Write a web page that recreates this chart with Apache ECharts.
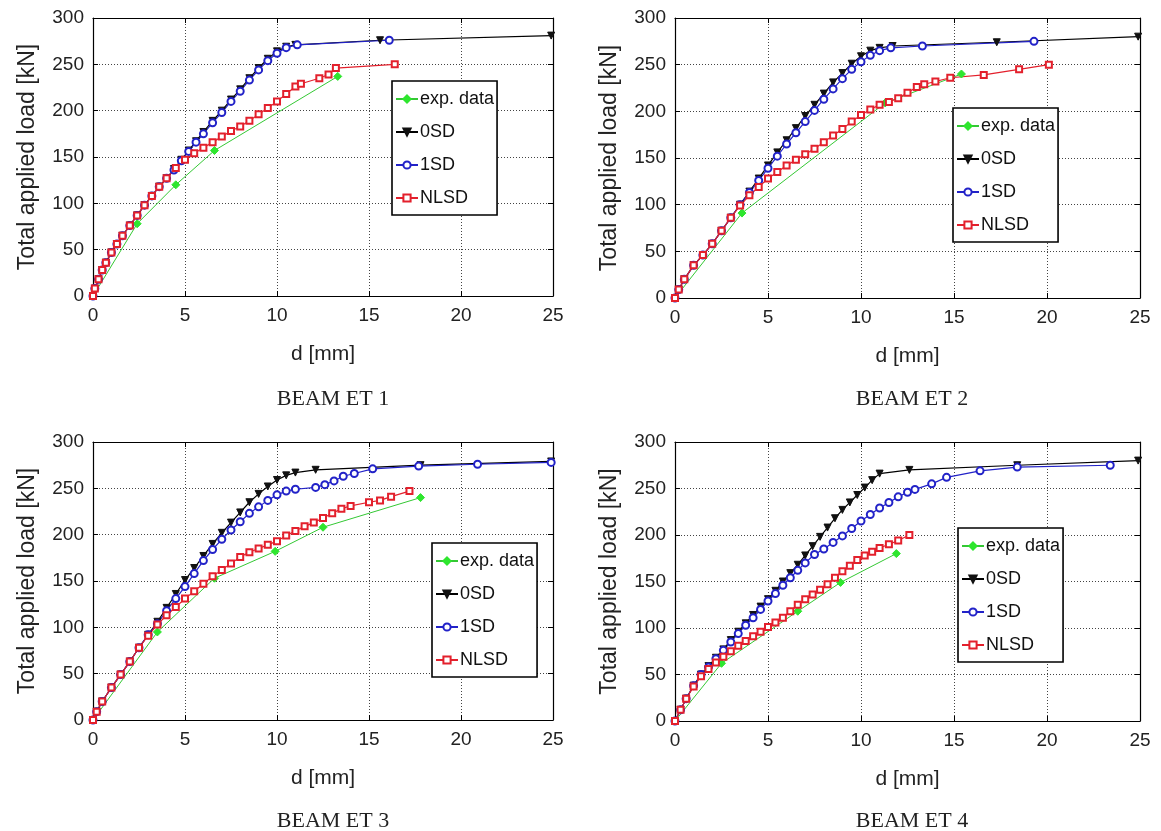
<!DOCTYPE html>
<html><head><meta charset="utf-8">
<script src="https://cdn.jsdelivr.net/npm/echarts@6/dist/echarts.min.js"></script>
<style>html,body{margin:0;padding:0;background:#fff}#c{width:1161px;height:831px}</style>
</head><body><div id="c"></div>
<script>
// ---------- data ----------
const panelTitles = ['BEAM ET 1', 'BEAM ET 2', 'BEAM ET 3', 'BEAM ET 4'];
const seriesNames = ['exp. data', '0SD', '1SD', 'NLSD'];
const xAxisName = 'd [mm]';
const yAxisName = 'Total applied load [kN]';
const xRange = [0, 25, 5];     // min, max, interval
const yRange = [0, 300, 50];

// BEAM ET 1
const et1Exp  = [[0,0],[2.4,78],[4.5,120],[6.6,157],[13.3,237]];
const et1_0SD = [[0,0],[0.1,8],[0.3,18],[0.5,28],[0.7,36],[1.0,47],[1.3,56],[1.6,65],[2.0,76],[2.4,87],[2.8,98],[3.2,108],[3.6,118],[4.0,127],[4.4,137],[4.8,147],[5.2,157],[5.6,167],[6.0,177],[6.5,189],[7.0,200],[7.5,212],[8.0,223],[8.5,235],[9.0,246],[9.5,256],[10.0,264],[10.5,269],[11.0,271],[15.6,276],[24.9,281]];
const et1_1SD = [[0,0],[0.1,8],[0.3,18],[0.5,28],[0.7,36],[1.0,47],[1.3,56],[1.6,65],[2.0,76],[2.4,87],[2.8,98],[3.2,108],[3.6,118],[4.0,127],[4.4,136],[4.8,146],[5.2,156],[5.6,166],[6.0,175],[6.5,187],[7.0,198],[7.5,210],[8.0,221],[8.5,233],[9.0,244],[9.5,254],[10.0,262],[10.5,268],[11.1,271],[16.1,276]];
const et1_NLSD = [[0,0],[0.1,8],[0.3,18],[0.5,28],[0.7,36],[1.0,47],[1.3,56],[1.6,65],[2.0,76],[2.4,87],[2.8,98],[3.2,108],[3.6,118],[4.0,127],[4.5,138],[5.0,147],[5.5,154],[6.0,160],[6.5,166],[7.0,172],[7.5,178],[8.0,183],[8.5,189],[9.0,196],[9.5,203],[10.0,210],[10.5,218],[11.0,226],[11.3,229],[12.3,235],[12.8,239],[13.2,246],[16.4,250]];

// BEAM ET 2
const et2Exp  = [[0,0],[3.6,91],[11.3,209],[15.4,240]];
const et2_0SD = [[0,0],[0.2,9],[0.5,20],[1.0,35],[1.5,46],[2.0,58],[2.5,72],[3.0,86],[3.5,100],[4.0,114],[4.5,128],[5.0,142],[5.5,156],[6.0,169],[6.5,182],[7.0,195],[7.5,207],[8.0,219],[8.5,231],[9.0,241],[9.5,251],[10.0,259],[10.5,265],[11.0,268],[11.7,270],[17.3,274],[24.9,280]];
const et2_1SD = [[0,0],[0.2,9],[0.5,20],[1.0,35],[1.5,46],[2.0,58],[2.5,72],[3.0,86],[3.5,100],[4.0,113],[4.5,126],[5.0,139],[5.5,152],[6.0,165],[6.5,177],[7.0,189],[7.5,201],[8.0,213],[8.5,224],[9.0,235],[9.5,245],[10.0,253],[10.5,260],[11.0,265],[11.6,268],[13.3,270],[19.3,275]];
const et2_NLSD = [[0,0],[0.2,9],[0.5,20],[1.0,35],[1.5,46],[2.0,58],[2.5,72],[3.0,86],[3.5,99],[4.0,110],[4.5,119],[5.0,128],[5.5,135],[6.0,142],[6.5,148],[7.0,154],[7.5,160],[8.0,167],[8.5,174],[9.0,181],[9.5,189],[10.0,196],[10.5,202],[11.0,207],[11.5,210],[12.0,214],[12.5,220],[13.0,226],[13.4,229],[14.0,232],[14.8,236],[16.6,239],[18.5,245],[20.1,250]];

// BEAM ET 3
const et3Exp  = [[0,0],[3.5,95],[6.6,153],[9.9,182],[12.5,208],[17.8,240]];
const et3_0SD = [[0,0],[0.2,9],[0.5,20],[1.0,35],[1.5,49],[2.0,63],[2.5,78],[3.0,92],[3.5,106],[4.0,121],[4.5,136],[5.0,151],[5.5,164],[6.0,177],[6.5,190],[7.0,202],[7.5,213],[8.0,224],[8.5,235],[9.0,244],[9.5,252],[10.0,259],[10.5,264],[11.0,267],[12.1,270],[17.8,275],[24.9,279]];
const et3_1SD = [[0,0],[0.2,9],[0.5,20],[1.0,35],[1.5,49],[2.0,63],[2.5,78],[3.0,92],[3.5,104],[4.0,118],[4.5,131],[5.0,144],[5.5,158],[6.0,172],[6.5,184],[7.0,195],[7.5,205],[8.0,214],[8.5,223],[9.0,230],[9.5,237],[10.0,243],[10.5,247],[11.0,249],[12.1,251],[12.6,254],[13.1,258],[13.6,263],[14.2,266],[15.2,271],[17.7,274],[20.9,276],[24.9,278]];
const et3_NLSD = [[0,0],[0.2,9],[0.5,20],[1.0,35],[1.5,49],[2.0,63],[2.5,78],[3.0,91],[3.5,103],[4.0,113],[4.5,122],[5.0,131],[5.5,139],[6.0,147],[6.5,155],[7.0,162],[7.5,169],[8.0,176],[8.5,181],[9.0,185],[9.5,189],[10.0,193],[10.5,199],[11.0,204],[11.5,209],[12.0,213],[12.5,218],[13.0,223],[13.5,228],[14.0,231],[15.0,235],[15.6,237],[16.2,241],[17.2,247]];

// BEAM ET 4
const et4Exp  = [[0,0],[2.5,62],[6.6,118],[8.9,149],[11.9,180]];
const et4_0SD = [[0,0],[0.3,12],[0.6,24],[1.0,38],[1.4,50],[1.8,59],[2.2,68],[2.6,77],[3.0,87],[3.4,96],[3.8,105],[4.2,114],[4.6,123],[5.0,131],[5.4,140],[5.8,150],[6.2,159],[6.6,168],[7.0,178],[7.4,188],[7.8,198],[8.2,208],[8.6,218],[9.0,227],[9.4,235],[9.8,243],[10.2,251],[10.6,259],[11.0,266],[12.6,270],[18.4,275],[24.9,280]];
const et4_1SD = [[0,0],[0.3,12],[0.6,24],[1.0,38],[1.4,50],[1.8,58],[2.2,67],[2.6,76],[3.0,85],[3.4,94],[3.8,103],[4.2,111],[4.6,120],[5.0,129],[5.4,137],[5.8,146],[6.2,154],[6.6,162],[7.0,170],[7.5,179],[8.0,185],[8.5,192],[9.0,199],[9.5,207],[10.0,215],[10.5,222],[11.0,229],[11.5,235],[12.0,241],[12.5,246],[12.9,249],[13.8,255],[14.6,262],[16.4,269],[18.4,273],[23.4,275]];
const et4_NLSD = [[0,0],[0.3,12],[0.6,24],[1.0,37],[1.4,48],[1.8,56],[2.2,63],[2.6,69],[3.0,75],[3.4,81],[3.8,86],[4.2,91],[4.6,96],[5.0,101],[5.4,106],[5.8,111],[6.2,118],[6.6,125],[7.0,131],[7.4,136],[7.8,141],[8.2,147],[8.6,154],[9.0,161],[9.4,167],[9.8,173],[10.2,178],[10.6,182],[11.0,186],[11.5,190],[12.0,194],[12.6,200]];

const panelData = [
  [et1Exp, et1_0SD, et1_1SD, et1_NLSD],
  [et2Exp, et2_0SD, et2_1SD, et2_NLSD],
  [et3Exp, et3_0SD, et3_1SD, et3_NLSD],
  [et4Exp, et4_0SD, et4_1SD, et4_NLSD]
];

// ---------- layout / style ----------
const grids = [
  {left: 93,  top: 18,  width: 460, height: 278},
  {left: 675, top: 18,  width: 465, height: 280},
  {left: 93,  top: 442, width: 460, height: 278},
  {left: 675, top: 442, width: 465, height: 279}
];
const legendPos = [
  {left: 392, top: 81},
  {left: 953, top: 108},
  {left: 432, top: 543},
  {left: 958, top: 528}
];
const titlePos = [
  {left: 328, top: 383},
  {left: 907, top: 383},
  {left: 328, top: 805},
  {left: 907, top: 805}
];
const SANS = '"Liberation Sans", Arial, Helvetica, sans-serif';
const SERIF = '"Liberation Serif", "Times New Roman", serif';
const seriesStyle = [
  {symbol: 'diamond', symbolSize: 8, symbolRotate: 0, color: '#2ee62e', line: '#34c834', width: 1},
  {symbol: 'triangle', symbolSize: 7, symbolRotate: 180, color: '#111111', line: '#000000', width: 1.2},
  {symbol: 'emptyCircle', symbolSize: 7, symbolRotate: 0, color: '#2222c8', line: '#2222c8', width: 1.2},
  {symbol: 'emptyRect', symbolSize: 6, symbolRotate: 0, color: '#e3202c', line: '#e3202c', width: 1.2}
];

const xAxes = [], yAxes = [], series = [], legends = [], titles = [];
grids.forEach((g, p) => {
  xAxes.push({
    type: 'value', gridIndex: p, min: xRange[0], max: xRange[1], interval: xRange[2],
    name: xAxisName, nameLocation: 'middle', nameGap: 48,
    nameTextStyle: {fontFamily: SANS, fontSize: 21, color: '#222'},
    axisLine: {show: true, onZero: false, lineStyle: {color: '#000', width: 1.2}},
    axisTick: {show: true, inside: true, length: 5, lineStyle: {color: '#000'}},
    axisLabel: {fontFamily: SANS, fontSize: 19, color: '#222', margin: 10},
    splitLine: {show: true, lineStyle: {color: '#444', type: [1, 2], width: 1}}
  });
  yAxes.push({
    type: 'value', gridIndex: p, min: yRange[0], max: yRange[1], interval: yRange[2],
    name: yAxisName, nameLocation: 'middle', nameGap: 54, nameRotate: 90,
    nameTextStyle: {fontFamily: SANS, fontSize: 23, color: '#222'},
    axisLine: {show: true, onZero: false, lineStyle: {color: '#000', width: 1.2}},
    axisTick: {show: true, inside: true, length: 5, lineStyle: {color: '#000'}},
    axisLabel: {fontFamily: SANS, fontSize: 19, color: '#222', margin: 9},
    splitLine: {show: true, lineStyle: {color: '#444', type: [1, 2], width: 1}}
  });
  legends.push({
    data: seriesNames, orient: 'vertical', left: legendPos[p].left, top: legendPos[p].top,
    itemGap: 15, itemWidth: 22, itemHeight: 9, padding: [9, 3, 8, 3],
    borderColor: '#000', borderWidth: 1.6, backgroundColor: '#fff',
    selectedMode: false,
    textStyle: {fontFamily: SANS, fontSize: 18, color: '#111', padding: [0, 0, 0, -3]}
  });
  titles.push({
    text: panelTitles[p], left: titlePos[p].left, top: titlePos[p].top, textAlign: 'center',
    textStyle: {fontFamily: SERIF, fontSize: 22, fontWeight: 'normal', color: '#222'}
  });
  panelData[p].forEach((d, s) => {
    const st = seriesStyle[s];
    series.push({
      type: 'line', name: seriesNames[s], xAxisIndex: p, yAxisIndex: p,
      data: d, symbol: st.symbol, symbolSize: st.symbolSize, symbolRotate: st.symbolRotate,
      showAllSymbol: true, animation: false,
      itemStyle: {color: st.color, borderColor: st.color, borderWidth: 1},
      lineStyle: {color: st.line, width: st.width}
    });
  });
});
// top / right tick-only axes (box style)
grids.forEach((g, p) => {
  xAxes.push({
    type: 'value', gridIndex: p, position: 'top', min: xRange[0], max: xRange[1], interval: xRange[2],
    axisLine: {show: true, onZero: false, lineStyle: {color: '#000', width: 1.2}},
    axisTick: {show: true, inside: true, length: 5, lineStyle: {color: '#000'}},
    axisLabel: {show: false}, splitLine: {show: false}
  });
  yAxes.push({
    type: 'value', gridIndex: p, position: 'right', min: yRange[0], max: yRange[1], interval: yRange[2],
    axisLine: {show: true, onZero: false, lineStyle: {color: '#000', width: 1.2}},
    axisTick: {show: true, inside: true, length: 5, lineStyle: {color: '#000'}},
    axisLabel: {show: false}, splitLine: {show: false}
  });
});

const chart = echarts.init(document.getElementById('c'), null, {renderer: 'canvas'});
chart.setOption({
  backgroundColor: '#fff',
  animation: false,
  title: titles,
  legend: legends,
  grid: grids,
  xAxis: xAxes,
  yAxis: yAxes,
  series: series
});
</script>
</body></html>
